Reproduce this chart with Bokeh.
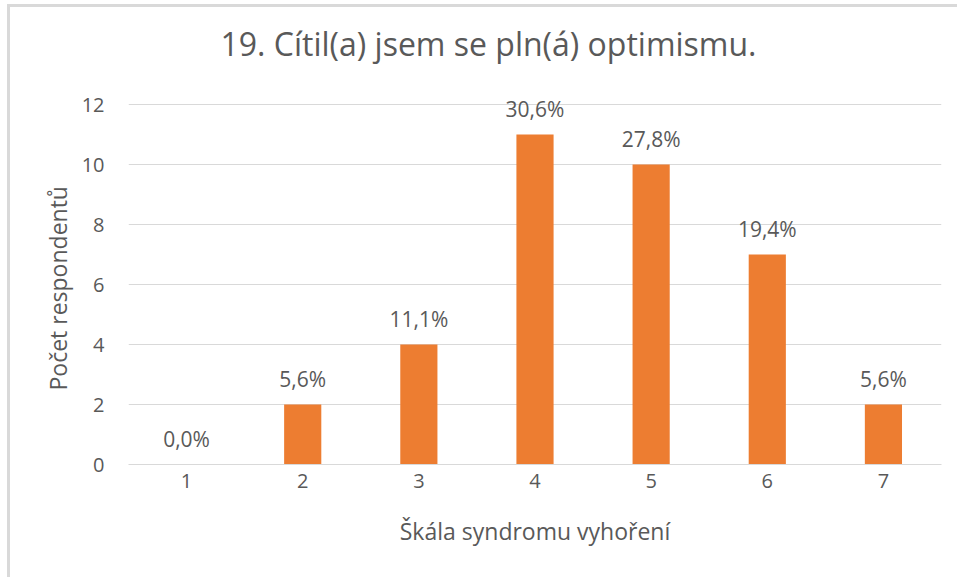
from bokeh.plotting import figure
from bokeh.models import ColumnDataSource, LabelSet, Label, Range1d, FixedTicker, Title
from bokeh.core.properties import value
from bokeh.embed import file_html
from bokeh.resources import INLINE

categories = [1, 2, 3, 4, 5, 6, 7]
counts = [0, 2, 4, 11, 10, 7, 2]
pct_labels = ["0,0%", "5,6%", "11,1%", "30,6%", "27,8%", "19,4%", "5,6%"]
y_ticks = [0, 2, 4, 6, 8, 10, 12]
title_text = "19. Cítil(a) jsem se pln(á) optimismu."
x_title = "Škála syndromu vyhoření"
y_title = "Počet respondentů"

TXT = "#595959"
FONT = "Open Sans"
BORDER = "#d9d9d9"
PX_PER_UNIT = 30  # 464 px of frame for the visible range

src = ColumnDataSource(dict(x=categories, top=counts, lab=pct_labels))

p = figure(width=957, height=577, output_backend="svg", toolbar_location=None,
           x_range=Range1d(0.5, 7.5), y_range=Range1d(0, 12 + 104 / PX_PER_UNIT),
           min_border_left=128, min_border_right=16, min_border_top=0, min_border_bottom=113)
p.outline_line_color = None
p.border_fill_color = None
p.background_fill_color = None
p.styles = {
    "background": (f"linear-gradient({BORDER},{BORDER}) 7px 4px / 3px 100% no-repeat, "
                   f"linear-gradient({BORDER},{BORDER}) 7px 4px / 100% 3px no-repeat, white"),
}

p.vbar(x="x", top="top", width=0.32, source=src, fill_color="#ED7D31", line_color=None)

labels = LabelSet(x="x", y="top", text="lab", source=src, text_align="center",
                  text_baseline="alphabetic", y_offset=18, text_color=TXT,
                  text_font_size="21px", text_font=value(FONT))
p.add_layout(labels)

p.add_layout(Label(x=488 - 128, x_units="screen", y=12 + (104 - 43) / PX_PER_UNIT, text=title_text,
                   text_align="center", text_baseline="alphabetic",
                   text_font_size="32px", text_font=FONT, text_color=TXT))

p.xgrid.grid_line_color = None
p.ygrid.grid_line_color = BORDER
p.ygrid.ticker = FixedTicker(ticks=y_ticks)

p.yaxis.ticker = FixedTicker(ticks=y_ticks)
p.xaxis.ticker = FixedTicker(ticks=categories)
for ax in (p.xaxis, p.yaxis):
    ax.major_tick_line_color = None
    ax.minor_tick_line_color = None
    ax.major_label_text_color = TXT
    ax.major_label_text_font = FONT
    ax.major_label_text_font_size = "20px"
    ax.axis_label_text_color = TXT
    ax.axis_label_text_font = FONT
    ax.axis_label_text_font_size = "23px"
    ax.axis_label_text_font_style = "normal"
p.yaxis.axis_line_color = None
p.xaxis.axis_line_color = BORDER
p.yaxis.major_label_standoff = 18
p.xaxis.major_label_standoff = 3
p.xaxis.axis_label = x_title
p.xaxis.axis_label_standoff = 24

p.add_layout(Title(text=y_title, align="left", offset=74, standoff=10,
                   text_font_size="23px", text_font=FONT, text_color=TXT,
                   text_font_style="normal"), "left")

open("out.html", "w").write(file_html(p, INLINE))
